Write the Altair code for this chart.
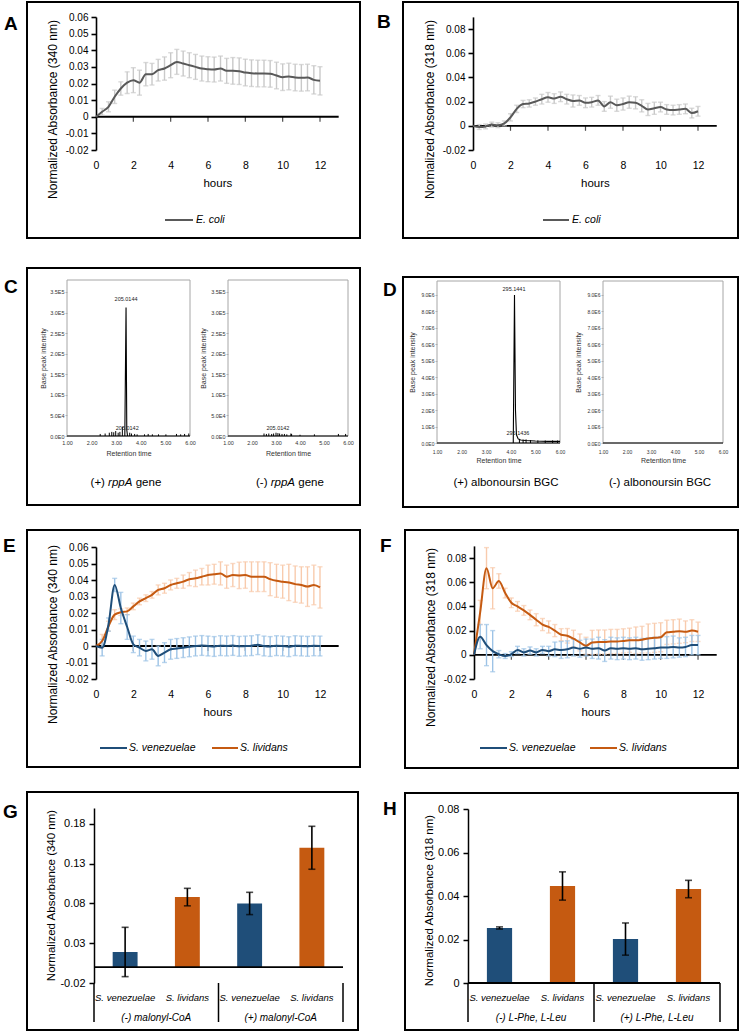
import altair as alt
import pandas as pd

FONT = "Liberation Sans"
W, H = 740, 1033
NAVY, ORANGE = "#1F4E79", "#C55A11"
LBLUE, LORANGE = "#9DC3E6", "#F8CBAD"
GLINE, GERR = "#595959", "#C9C9C9"
FRAME = "#A6A6A6"

# ---------------- data ----------------
HOURS = [0, 0.33, 0.67, 1, 1.33, 1.67, 2, 2.33, 2.67, 3, 3.33, 3.67, 4, 4.33, 4.67, 5,
         5.33, 5.67, 6, 6.33, 6.67, 7, 7.33, 7.67, 8, 8.33, 8.67, 9, 9.33, 9.67, 10,
         10.33, 10.67, 11, 11.33, 11.67, 12]
HOUR_TICKS = [0, 2, 4, 6, 8, 10, 12]

A_MEAN = [0, 0.003, 0.006, 0.012, 0.017, 0.0205, 0.022, 0.0205, 0.0256, 0.0256, 0.028, 0.029,
          0.031, 0.033, 0.032, 0.031, 0.030, 0.029, 0.0286, 0.0284, 0.029, 0.0276, 0.0276,
          0.0274, 0.0266, 0.0262, 0.026, 0.026, 0.0258, 0.0248, 0.0238, 0.0242, 0.0236,
          0.0234, 0.0236, 0.0222, 0.0216]
A_SD = [0, 0.002, 0.003, 0.004, 0.004, 0.0065, 0.0075, 0.0075, 0.007, 0.0065, 0.0065, 0.007,
        0.0075, 0.0075, 0.0075, 0.0075, 0.0075, 0.0075, 0.0075, 0.0075, 0.0075, 0.0075,
        0.008, 0.008, 0.008, 0.008, 0.008, 0.008, 0.008, 0.008, 0.008, 0.008, 0.008, 0.008,
        0.008, 0.0085, 0.0085]

B_MEAN = [0, -0.001, -0.0005, 0.001, 0.0005, 0.002, 0.007, 0.014, 0.018, 0.0185, 0.02, 0.022,
          0.0235, 0.0225, 0.024, 0.022, 0.0205, 0.021, 0.019, 0.0195, 0.021, 0.016, 0.0195,
          0.017, 0.018, 0.0195, 0.019, 0.0165, 0.0135, 0.0145, 0.0155, 0.0135, 0.013, 0.0135,
          0.014, 0.0105, 0.012]
B_SD = [0, 0.002, 0.002, 0.002, 0.002, 0.002, 0.003, 0.003, 0.003, 0.003, 0.003, 0.004, 0.004,
        0.004, 0.004, 0.004, 0.005, 0.004, 0.004, 0.004, 0.004, 0.004, 0.005, 0.005, 0.005,
        0.005, 0.005, 0.005, 0.005, 0.005, 0.004, 0.004, 0.004, 0.004, 0.004, 0.004, 0.004]

E_SV_MEAN = [0, -0.001, 0.013, 0.037, 0.023, 0.0115, 0.001, -0.001, -0.003, -0.002, -0.006,
             -0.004, -0.002, -0.0015, -0.001, -0.0005, 0, 0.0003, 0, -0.0003, 0.0002, 0, 0.0003,
             -0.0002, 0, 0.0002, 0.0008, 0, -0.0003, 0.0002, 0, -0.0004, 0.0002, 0, -0.0002,
             0.0001, 0]
E_SV_SD = [0, 0.005, 0.004, 0.004, 0.0095, 0.0075, 0.005, 0.005, 0.006, 0.006, 0.006, 0.006,
           0.006, 0.006, 0.006, 0.006, 0.006, 0.006, 0.006, 0.006, 0.006, 0.006, 0.006, 0.006,
           0.006, 0.006, 0.006, 0.006, 0.006, 0.006, 0.006, 0.006, 0.006, 0.006, 0.006, 0.006,
           0.006]
E_SL_MEAN = [0, 0.003, 0.012, 0.019, 0.0205, 0.021, 0.024, 0.027, 0.029, 0.031, 0.034, 0.035,
             0.037, 0.038, 0.039, 0.0405, 0.041, 0.042, 0.043, 0.0435, 0.044, 0.042, 0.043,
             0.0428, 0.043, 0.042, 0.042, 0.042, 0.0405, 0.0395, 0.039, 0.0385, 0.0375, 0.037,
             0.036, 0.037, 0.0355]
E_SL_SD = [0, 0.004, 0.003, 0.003, 0.002, 0.002, 0.002, 0.002, 0.002, 0.002, 0.003, 0.003,
           0.003, 0.003, 0.004, 0.004, 0.005, 0.005, 0.006, 0.006, 0.007, 0.007, 0.007, 0.008,
           0.008, 0.009, 0.009, 0.009, 0.01, 0.01, 0.01, 0.011, 0.011, 0.011, 0.012, 0.012,
           0.0125]

F_SL_MEAN = [0, 0.035, 0.0716, 0.055, 0.061, 0.051, 0.043, 0.040, 0.0367, 0.033, 0.029, 0.025,
             0.023, 0.020, 0.0166, 0.0157, 0.0133, 0.0102, 0.0075, 0.0102, 0.0105, 0.0105, 0.011,
             0.011, 0.0115, 0.012, 0.012, 0.0125, 0.0135, 0.014, 0.0145, 0.0186, 0.019, 0.0195,
             0.019, 0.020, 0.019]
F_SL_SD = [0, 0.01, 0.017, 0.017, 0.006, 0.004, 0.004, 0.004, 0.004, 0.004, 0.005, 0.005,
           0.005, 0.005, 0.005, 0.006, 0.007, 0.007, 0.007, 0.01, 0.01, 0.01, 0.01, 0.01, 0.01,
           0.01, 0.011, 0.011, 0.012, 0.012, 0.012, 0.01, 0.01, 0.01, 0.009, 0.009, 0.008]
F_SV_MEAN = [0, 0.015, 0.008, 0.003, 0.0005, -0.001, 0.0005, 0.004, 0.002, 0.0035, 0.002, 0.004,
             0.003, 0.0045, 0.004, 0.0045, 0.006, 0.005, 0.006, 0.005, 0.0055, 0.0035, 0.0055,
             0.005, 0.0055, 0.005, 0.0055, 0.0045, 0.005, 0.0055, 0.006, 0.006, 0.0065, 0.006,
             0.0065, 0.008, 0.008]
F_SV_SD = [0, 0.01, 0.017, 0.017, 0.003, 0.002, 0.002, 0.003, 0.003, 0.003, 0.003, 0.003,
           0.004, 0.006, 0.007, 0.007, 0.007, 0.007, 0.007, 0.008, 0.009, 0.009, 0.009, 0.009,
           0.009, 0.009, 0.009, 0.009, 0.009, 0.009, 0.009, 0.009, 0.009, 0.008, 0.008, 0.008,
           0.008]

BAR_SPECIES = ["S. venezuelae", "S. lividans", "S. venezuelae", "S. lividans"]
G_GROUPS = ["(-) malonyl-CoA", "(+) malonyl-CoA"]
G_MEAN = [0.019, 0.088, 0.080, 0.150]
G_ERR = [0.031, 0.011, 0.014, 0.027]
H_GROUPS = ["(-) L-Phe, L-Leu", "(+) L-Phe, L-Leu"]
H_MEAN = [0.0253, 0.0446, 0.0202, 0.0432]
H_ERR = [0.0005, 0.0065, 0.0074, 0.004]

# chromatograms (retention time, base peak intensity)
C_TICKS = [0, 50000, 100000, 150000, 200000, 250000, 300000, 350000]
C_TICK_LABELS = ["0.0E0", "5.0E4", "1.0E5", "1.5E5", "2.0E5", "2.5E5", "3.0E5", "3.5E5"]
D_TICKS = [0, 1e6, 2e6, 3e6, 4e6, 5e6, 6e6, 7e6, 8e6, 9e6]
D_TICK_LABELS = ["0.0E0", "1.0E6", "2.0E6", "3.0E6", "4.0E6", "5.0E6", "6.0E6", "7.0E6",
                 "8.0E6", "9.0E6"]
RT_TICKS = [1, 2, 3, 4, 5, 6]

C_PLUS_PEAK_T = [3.35, 3.40, 3.43, 3.46]
C_PLUS_PEAK_I = [0, 312000, 15000, 0]
C_PLUS_NOISE_T = [2.35, 2.55, 2.72, 2.82, 2.90, 2.98, 3.08, 3.15, 3.25, 3.55, 3.62, 3.75, 3.85,
                  4.15, 4.30, 4.47, 4.72, 5.02, 5.45, 5.62, 5.78, 5.95]
C_PLUS_NOISE_I = [5000, 6000, 8000, 10000, 9000, 12000, 8000, 10000, 22000, 8000, 6000, 5000,
                  4000, 4000, 5000, 4000, 4000, 4000, 5000, 4000, 5000, 6000]
C_PLUS_ANN_T = [3.40, 3.45]
C_PLUS_ANN_I = [333000, 20000]
C_PLUS_ANN = ["205.0144", "205.0142"]

C_MINUS_NOISE_T = [2.50, 2.60, 2.70, 2.82, 2.90, 3.00, 3.08, 3.15, 3.25, 3.35, 3.45, 3.62,
                   3.65, 4.00, 4.60, 5.60, 5.90]
C_MINUS_NOISE_I = [6000, 5000, 6000, 5000, 6000, 8000, 7000, 6000, 5000, 5000, 4000, 6000,
                   5000, 3000, 4000, 5000, 5000]
C_MINUS_ANN_T = [3.08]
C_MINUS_ANN_I = [20000]
C_MINUS_ANN = ["205.0142"]

D_PLUS_PEAK_T = [4.10, 4.15, 4.19, 4.23, 4.30, 4.40, 4.60, 5.00, 5.50, 6.00]
D_PLUS_PEAK_I = [0, 9.0e6, 2.0e6, 5.0e5, 2.5e5, 1.8e5, 1.5e5, 1.2e5, 1.0e5, 1.0e5]
D_PLUS_NOISE_T = [4.35, 4.50, 4.62, 4.80, 5.10, 5.40, 5.70, 5.90]
D_PLUS_NOISE_I = [2.5e5, 2.0e5, 2.2e5, 1.8e5, 1.6e5, 1.5e5, 1.6e5, 1.5e5]
D_PLUS_ANN_T = [4.13, 4.29]
D_PLUS_ANN_I = [9.35e6, 6.0e5]
D_PLUS_ANN = ["295.1441", "295.1436"]

ONE = pd.DataFrame({"k": [0]})


# ---------------- helpers ----------------
def txt(s, x, y, size, align="left", baseline="middle", style="normal", weight="normal",
        color="black"):
    return alt.Chart(ONE).mark_text(text=s, font=FONT, fontSize=size, align=align,
                                    baseline=baseline, fontStyle=style, fontWeight=weight,
                                    color=color).encode(x=alt.value(x), y=alt.value(y))


def box(x0, y0, x1, y1, color="black", width=2.0):
    return alt.Chart(ONE).mark_rect(filled=False, stroke=color, strokeWidth=width).encode(
        x=alt.value(x0), x2=alt.value(x1), y=alt.value(y0), y2=alt.value(y1))


def seg(x0, y0, x1, y1, color="black", width=1.5):
    return alt.Chart(ONE).mark_rule(color=color, strokeWidth=width).encode(
        x=alt.value(x0), x2=alt.value(x1), y=alt.value(y0), y2=alt.value(y1))


def ts_df(mean, sd):
    return pd.DataFrame({"t": HOURS, "m": mean,
                         "lo": [m - s for m, s in zip(mean, sd)],
                         "hi": [m + s for m, s in zip(mean, sd)]})


def ts_panel(series, xr, yr, ydom, yticks, ytitle, lab_y, hours_y, ytx, yty):
    xs = alt.Scale(domain=[0, 13], range=list(xr), nice=False, zero=False)
    ys = alt.Scale(domain=list(ydom), range=list(yr), nice=False, zero=False)
    xaxis = alt.Axis(orient="bottom", offset=lab_y - H, values=HOUR_TICKS, domain=False,
                     ticks=False, tickSize=0, labelPadding=0, labelFontSize=10.5,
                     labelFlush=False, labelOverlap=False, title="hours", titleFontSize=11.5,
                     titleX=(xr[0] + xr[1]) / 2, titleY=hours_y - lab_y, titleAlign="center",
                     titleBaseline="middle")
    yaxis = alt.Axis(orient="left", offset=-xr[0], values=yticks, domainWidth=1.6,
                     tickWidth=1.6, tickSize=5, labelPadding=3, labelFontSize=10,
                     labelExpr="'' + datum.value", labelOverlap=False, title=ytitle,
                     titleFontSize=12, titleX=ytx - xr[0], titleY=yty, titleAngle=270,
                     titleAlign="center", titleBaseline="middle")
    X = lambda f: alt.X(f, scale=xs, axis=xaxis)
    Y = lambda f: alt.Y(f, scale=ys, axis=yaxis)
    zdf = pd.DataFrame({"x0": [0.0], "x1": [13.0], "y0": [0.0]})
    layers = [alt.Chart(zdf).mark_rule(color="black", strokeWidth=1.8).encode(
        x=X("x0:Q"), x2="x1:Q", y=Y("y0:Q"))]
    tdf = pd.DataFrame({"t": HOUR_TICKS[1:], "y0": [0.0] * (len(HOUR_TICKS) - 1)})
    layers.append(alt.Chart(tdf).mark_tick(orient="vertical", size=5, thickness=1.2,
                                           color="black", yOffset=2.5).encode(
        x=X("t:Q"), y=Y("y0:Q")))
    for df, lc, ec in series:
        err = alt.Chart(df).transform_filter("datum.hi > datum.lo")
        layers.append(err.mark_rule(color=ec, strokeWidth=1.4).encode(
            x=X("t:Q"), y=Y("lo:Q"), y2="hi:Q"))
        layers.append(err.transform_fold(["lo", "hi"], as_=["w", "v"]).mark_tick(
            orient="horizontal", color=ec, size=5, thickness=1.4).encode(
            x=X("t:Q"), y=Y("v:Q")))
    for df, lc, ec in series:
        layers.append(alt.Chart(df).mark_line(color=lc, strokeWidth=2,
                                              interpolate="monotone").encode(
            x=X("t:Q"), y=Y("m:Q")))
    return alt.layer(*layers)


def tick_expr(values, labels):
    expr = "''"
    for v, l in reversed(list(zip(values, labels))):
        expr = f"datum.value == {int(v)} ? '{l}' : ({expr})"
    return expr


def chrom_panel(frame, ymax, yticks, ylabels, ytx, lab_top, rt_y, peak=None, spikes=None,
                ann=None, lab_size=5.5):
    x0, x1, yt, yb = frame
    xs = alt.Scale(domain=[1, 6], range=[x0, x1], nice=False, zero=False)
    ys = alt.Scale(domain=[0, ymax], range=[yb, yt], nice=False, zero=False)
    xaxis = alt.Axis(orient="bottom", offset=lab_top - H, values=RT_TICKS, format=".2f",
                     domain=False, ticks=False, tickSize=0, labelPadding=0,
                     labelFontSize=lab_size, labelColor="#333333", labelFlush=False,
                     labelOverlap=False, title="Retention time", titleFontSize=7,
                     titleColor="#333333", titleX=(x0 + x1) / 2, titleY=rt_y - lab_top,
                     titleAlign="center", titleBaseline="middle")
    yaxis = alt.Axis(orient="left", offset=-x0, values=yticks, domain=False, tickSize=2,
                     tickColor=FRAME, tickWidth=0.8, labelPadding=1, labelFontSize=lab_size,
                     labelColor="#333333", labelExpr=tick_expr(yticks, ylabels),
                     labelOverlap=False, title="Base peak intensity", titleFontSize=7,
                     titleColor="#333333", titleX=ytx - x0, titleY=(yt + yb) / 2,
                     titleAngle=270, titleAlign="center", titleBaseline="middle")
    X = lambda f: alt.X(f, scale=xs, axis=xaxis)
    Y = lambda f: alt.Y(f, scale=ys, axis=yaxis)
    layers = [box(x0, yt, x1, yb, FRAME, 1)]
    bdf = pd.DataFrame({"a": [1.0], "b": [6.0], "y0": [0.0]})
    layers.append(alt.Chart(bdf).mark_rule(color="black", strokeWidth=1).encode(
        x=X("a:Q"), x2="b:Q", y=Y("y0:Q")))
    if spikes is not None:
        sdf = pd.DataFrame({"t": spikes[0], "i": spikes[1], "z": 0.0})
        layers.append(alt.Chart(sdf).mark_rule(color="black", strokeWidth=1).encode(
            x=X("t:Q"), y=Y("z:Q"), y2="i:Q"))
    if peak is not None:
        pdf = pd.DataFrame({"t": peak[0], "i": peak[1]})
        layers.append(alt.Chart(pdf).mark_line(color="black", strokeWidth=1.1).encode(
            x=X("t:Q"), y=Y("i:Q")))
    if ann is not None:
        adf = pd.DataFrame({"t": ann[0], "i": ann[1], "s": ann[2]})
        layers.append(alt.Chart(adf).mark_text(font=FONT, fontSize=5.5, color="#222222",
                                               baseline="middle").encode(
            x=X("t:Q"), y=Y("i:Q"), text="s:N"))
    return alt.layer(*layers)


def bar_panel(groups, means, errs, xr, yr, ydom, yticks, ytitle, ytx, yty, cat_top, group_y,
              sep_top, sep_bot):
    keys = [f"{i}|{s}" for i, s in enumerate(BAR_SPECIES)]
    step = (xr[1] - xr[0]) / len(keys)
    df = pd.DataFrame({"key": keys, "sp": BAR_SPECIES, "m": means, "z": 0.0,
                       "lo": [m - e for m, e in zip(means, errs)],
                       "hi": [m + e for m, e in zip(means, errs)]})
    xs = alt.Scale(domain=keys, range=list(xr), paddingInner=0.6, paddingOuter=0.3)
    ys = alt.Scale(domain=list(ydom), range=list(yr), nice=False, zero=False)
    xaxis = alt.Axis(orient="bottom", offset=cat_top - H, domain=False, ticks=False,
                     tickSize=0, labelPadding=0, labelAngle=0, labelFontSize=9.5,
                     labelFontStyle="italic", labelExpr="split(datum.label, '|')[1]",
                     title=None)
    yaxis = alt.Axis(orient="left", offset=-xr[0], values=yticks, tickSize=5, labelPadding=4,
                     labelFontSize=11, domainWidth=1.5, tickWidth=1.5,
                     labelExpr="'' + datum.value", labelOverlap=False, title=ytitle,
                     titleFontSize=11.5, titleX=ytx - xr[0], titleY=yty, titleAngle=270,
                     titleAlign="center", titleBaseline="middle")
    X = lambda f: alt.X(f, scale=xs, axis=xaxis)
    Y = lambda f: alt.Y(f, scale=ys, axis=yaxis)
    color = alt.Color("sp:N", scale=alt.Scale(domain=["S. venezuelae", "S. lividans"],
                                              range=[NAVY, ORANGE]), legend=None)
    layers = [alt.Chart(df).mark_bar().encode(x=X("key:N"), y=Y("m:Q"), y2="z:Q", color=color)]
    zdf = pd.DataFrame({"y0": [0.0]})
    layers.append(alt.Chart(zdf).mark_rule(color="black", strokeWidth=1.8).encode(
        x=alt.value(xr[0]), x2=alt.value(xr[1]), y=Y("y0:Q")))
    layers.append(alt.Chart(df).mark_rule(color="black", strokeWidth=1.6).encode(
        x=X("key:N"), y=Y("lo:Q"), y2="hi:Q"))
    layers.append(alt.Chart(df).transform_fold(["lo", "hi"], as_=["w", "v"]).mark_tick(
        orient="horizontal", color="black", size=7, thickness=1.6).encode(
        x=X("key:N"), y=Y("v:Q")))
    for sx in [xr[0], xr[0] + 2 * step, xr[1]]:
        layers.append(seg(sx, sep_top, sx, sep_bot, "black", 1.5))
    for gi, g in enumerate(groups):
        layers.append(txt(g, xr[0] + step * (2 * gi + 1), group_y, 10, align="center",
                          style="italic"))
    return alt.layer(*layers)


def caption(prefix, word, suffix, center, y, size=11.5):
    w1 = {"(+)": 1.25, "(-)": 1.0}[prefix] * size
    sp = 0.278 * size
    w2 = len(word) * 0.53 * size
    w3 = len(suffix) * 0.56 * size
    total = w1 + sp + w2 + sp + w3
    x = center - total / 2
    return [txt(prefix, x, y, size),
            txt(word, x + w1 + sp, y, size, style="italic"),
            txt(suffix, x + w1 + sp + w2 + sp, y, size)]


# ---------------- panels ----------------
layers = []

# A
layers += [box(27, 2, 360, 238), txt("A", 4, 30, 19, baseline="alphabetic", weight="bold")]
layers.append(ts_panel([(ts_df(A_MEAN, A_SD), GLINE, GERR)], (96, 338.67), (150, 17),
                       (-0.02, 0.06), [-0.02, -0.01, 0, 0.01, 0.02, 0.03, 0.04, 0.05, 0.06],
                       "Normalized Absorbance (340 nm)", 160, 183, 52, 109))
layers += [seg(165, 220, 193, 220, GLINE, 2), txt("E. coli", 196, 220, 10.5, style="italic")]

# B
layers += [box(403, 2, 738, 238), txt("B", 377, 28, 19, baseline="alphabetic", weight="bold")]
layers.append(ts_panel([(ts_df(B_MEAN, B_SD), GLINE, GERR)], (473, 716.75), (150, 16.9),
                       (-0.02, 0.09), [-0.02, 0, 0.02, 0.04, 0.06, 0.08],
                       "Normalized Absorbance (318 nm)", 160, 183, 429, 109))
layers += [seg(543, 220, 569, 220, GLINE, 2), txt("E. coli", 572, 220, 10.5, style="italic")]

# C
layers += [box(27, 268, 360, 505), txt("C", 4, 293, 19, baseline="alphabetic", weight="bold")]
layers.append(chrom_panel((67, 190, 280, 436), 3.79e5, C_TICKS, C_TICK_LABELS, 43, 440, 453,
                          peak=(C_PLUS_PEAK_T, C_PLUS_PEAK_I),
                          spikes=(C_PLUS_NOISE_T, C_PLUS_NOISE_I),
                          ann=(C_PLUS_ANN_T, C_PLUS_ANN_I, C_PLUS_ANN)))
layers.append(chrom_panel((228, 348, 280, 436), 3.79e5, C_TICKS, C_TICK_LABELS, 203, 440, 453,
                          spikes=(C_MINUS_NOISE_T, C_MINUS_NOISE_I),
                          ann=(C_MINUS_ANN_T, C_MINUS_ANN_I, C_MINUS_ANN)))
layers += caption("(+)", "rppA", "gene", 126, 483)
layers += caption("(-)", "rppA", "gene", 290, 483)

# D
layers += [box(403, 277, 738, 507), txt("D", 383, 296, 19, baseline="alphabetic", weight="bold")]
layers.append(chrom_panel((437, 560, 281, 443), 9.85e6, D_TICKS, D_TICK_LABELS, 412, 449, 460,
                          peak=(D_PLUS_PEAK_T, D_PLUS_PEAK_I),
                          spikes=(D_PLUS_NOISE_T, D_PLUS_NOISE_I),
                          ann=(D_PLUS_ANN_T, D_PLUS_ANN_I, D_PLUS_ANN), lab_size=5))
layers.append(chrom_panel((603, 723, 281, 443), 9.85e6, D_TICKS, D_TICK_LABELS, 578, 449, 460,
                          lab_size=5))
layers += [txt("(+) albonoursin BGC", 506, 483, 11.5, align="center"),
           txt("(-) albonoursin BGC", 660, 483, 11.5, align="center")]

# E
layers += [box(27, 530, 360, 767), txt("E", 3, 552, 19, baseline="alphabetic", weight="bold")]
layers.append(ts_panel([(ts_df(E_SL_MEAN, E_SL_SD), ORANGE, LORANGE),
                        (ts_df(E_SV_MEAN, E_SV_SD), NAVY, LBLUE)],
                       (96, 338.67), (679, 547), (-0.02, 0.06),
                       [-0.02, -0.01, 0, 0.01, 0.02, 0.03, 0.04, 0.05, 0.06],
                       "Normalized Absorbance (340 nm)", 689, 712, 52, 634))
layers += [seg(100, 748, 127, 748, NAVY, 2), txt("S. venezuelae", 129, 748, 10.5, style="italic"),
           seg(212, 748, 238, 748, ORANGE, 2), txt("S. lividans", 240, 748, 10.5, style="italic")]

# F
layers += [box(405, 530, 738, 768), txt("F", 380, 552, 19, baseline="alphabetic", weight="bold")]
layers.append(ts_panel([(ts_df(F_SL_MEAN, F_SL_SD), ORANGE, LORANGE),
                        (ts_df(F_SV_MEAN, F_SV_SD), NAVY, LBLUE)],
                       (474, 716.7), (679, 545.9), (-0.02, 0.09),
                       [-0.02, 0, 0.02, 0.04, 0.06, 0.08],
                       "Normalized Absorbance (318 nm)", 689, 712, 430, 637))
layers += [seg(480, 748, 507, 748, NAVY, 2), txt("S. venezuelae", 509, 748, 10.5, style="italic"),
           seg(590, 748, 617, 748, ORANGE, 2), txt("S. lividans", 619, 748, 10.5, style="italic")]

# G
layers += [box(27, 792, 358, 1030), txt("G", 3, 818, 19, baseline="alphabetic", weight="bold")]
layers.append(bar_panel(G_GROUPS, G_MEAN, G_ERR, (94, 343), (983, 808), (-0.02, 0.2),
                        [-0.02, 0.03, 0.08, 0.13, 0.18], "Normalized Absorbance (340 nm)",
                        51, 895, 992, 1018, 983, 1022))

# H
layers += [box(405, 793, 738, 1030), txt("H", 383, 815, 19, baseline="alphabetic", weight="bold")]
layers.append(bar_panel(H_GROUPS, H_MEAN, H_ERR, (468, 720), (983, 809), (0, 0.08),
                        [0, 0.02, 0.04, 0.06, 0.08], "Normalized Absorbance (318 nm)",
                        429, 900, 992, 1018, 983, 1022))

chart = alt.layer(*layers).resolve_scale(
    x="independent", y="independent", color="independent"
).resolve_axis(x="independent", y="independent").properties(
    width=W, height=H, autosize=alt.AutoSizeParams(type="none"), padding=0
).configure_view(stroke=None).configure_axis(
    grid=False, labelFont=FONT, titleFont=FONT, titleFontWeight="normal", labelColor="black",
    titleColor="black", domainColor="black", tickColor="black"
).configure_text(font=FONT)

chart.save("out.html", embed_options={"renderer": "svg", "actions": False})
